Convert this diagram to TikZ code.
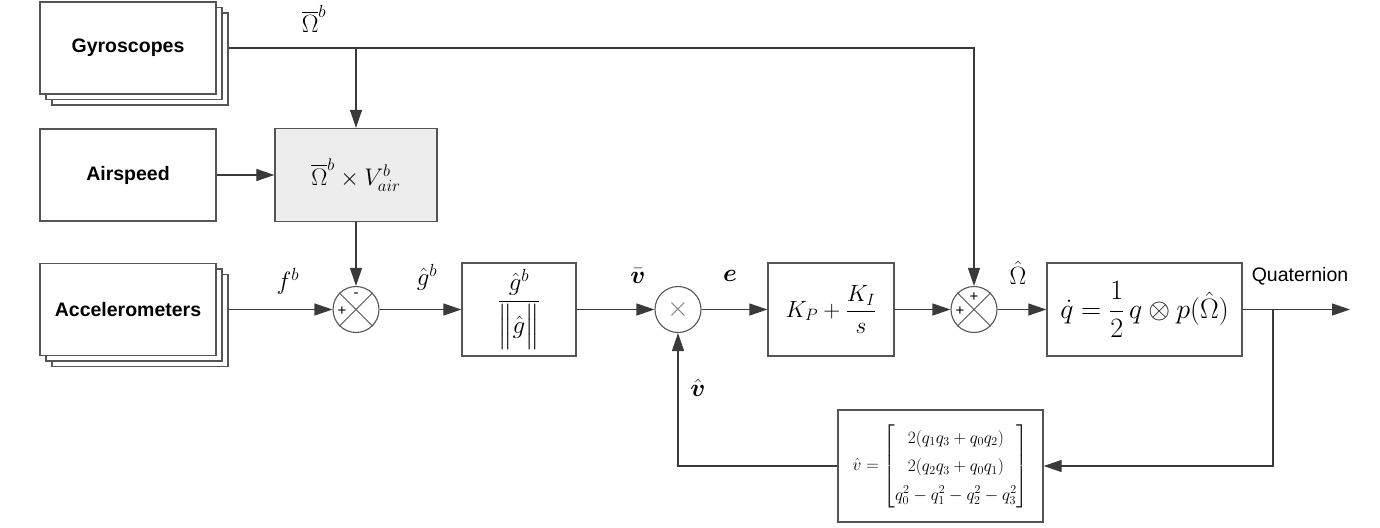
\RequirePackage{fix-cm}
\documentclass[tikz,border=0pt]{standalone}
\usepackage{amsmath,amssymb}
\usepackage{fontspec}
\newfontfamily\blockfont{Liberation Sans}
\usepackage{tikz}
\usetikzlibrary{arrows.meta,positioning,shapes.geometric,shadows}

\definecolor{linegray}{HTML}{3A3A3A}
\definecolor{boxgray}{HTML}{555555}
\definecolor{crossfill}{HTML}{EDEDED}

\begin{document}
\begin{tikzpicture}[x=1pt,y=-1pt,
  sensor/.style={draw=boxgray,line width=1.3pt,fill=white,minimum width=176pt,minimum height=92pt,
    font=\blockfont\fontsize{19.5}{23}\selectfont\bfseries},
  block/.style={draw=boxgray,line width=1.3pt,fill=white,minimum height=93pt,inner sep=0pt},
  junction/.style={draw=boxgray,circle,line width=1.1pt,minimum size=46pt,inner sep=0pt},
  wire/.style={line width=1.2pt,draw=linegray},
  sig/.style={wire,-{Triangle[length=18pt,width=12pt]}},
  lbl/.style={font=\fontsize{25}{29}\selectfont},
  sign/.style={font=\blockfont\fontsize{15}{17}\selectfont,inner sep=0pt}]
\useasboundingbox (0,0) rectangle (1380,527);

% sensors
\node[sensor,double copy shadow={shadow xshift=6pt,shadow yshift=-5.5pt}] (gyro) at (128,48) {Gyroscopes};
\node[sensor] (airspd) at (128,175) {Airspeed};
\node[sensor,double copy shadow={shadow xshift=6pt,shadow yshift=-5.5pt}] (accel) at (128,309.5) {Accelerometers};

% blocks
\node[block,fill=crossfill,minimum width=162pt] (cross) at (356,175)
  {\fontsize{24}{28}\selectfont$\overline{\Omega}^b\times V_{air}^b$};
\node[junction] (sumA) at (356,309.5) {};
\node[block,minimum width=114pt] (norm) at (519,309.5)
  {\fontsize{25}{30}\selectfont$\dfrac{\hat{g}^b}{\Bigl\|\hat{g}\Bigr\|}$};
\node[junction] (mult) at (678,309.5) {\fontsize{28}{32}\selectfont\color{gray}$\times$};
\node[block,minimum width=126pt] (kin) at (831,309.5)
  {\fontsize{23.5}{28}\selectfont$K_P+\dfrac{K_I}{s}$};
\node[block,minimum width=195pt] (qdot) at (1144.5,309.5)
  {\fontsize{28}{33}\selectfont$\dot{q}=\dfrac{1}{2}\,q\otimes p(\hat{\Omega})$};
\node[junction] (sumB) at (974,309.5) {};
\node[block,minimum width=205pt,minimum height=112pt] (fb) at (940.5,466)
  {\fontsize{17.3}{21}\selectfont\renewcommand{\arraystretch}{1.35}%
   $\hat{v}=\begin{bmatrix}2(q_1q_3+q_0q_2)\\2(q_2q_3+q_0q_1)\\q_0^2-q_1^2-q_2^2-q_3^2\end{bmatrix}$};

% junction crosses and signs
\foreach \j in {sumA,sumB}
  \draw[boxgray,line width=1pt] (\j.north west) -- (\j.south east) (\j.north east) -- (\j.south west);
\node[sign] (sumAm) at (356,295) {-};
\node[sign] (sumAp) at (342,311) {+};
\node[sign] (sumBt) at (974,297) {+};
\node[sign] (sumBp) at (960,311) {+};

% connectors
\coordinate (out) at (1350,309.5);
\coordinate (tap) at (1273,309.5);
\draw[sig] ([xshift=12pt]gyro.east) -| (sumB);
\draw[sig] (gyro.east -| cross.north) -- (cross);
\draw[sig] (airspd) -- (cross);
\draw[sig] (cross) -- (sumA);
\draw[sig] ([xshift=12pt]accel.east) -- (sumA);
\draw[sig] (sumA) -- (norm);
\draw[sig] (norm) -- (mult);
\draw[sig] (mult) -- (kin);
\draw[sig] (kin) -- (sumB);
\draw[sig] (sumB) -- (qdot);
\draw[sig] (qdot) -- (out);
\draw[sig] (tap) |- (fb);
\draw[sig] (fb) -| (mult);

% signal labels
\node[lbl] (omb) at (314,19) {$\overline{\Omega}^b$};
\node[lbl] (fbl) at (288,281) {$f^b$};
\node[lbl] (ghl) at (427,277) {$\hat{g}^b$};
\node[lbl] (vbl) at (638,276) {$\bar{\boldsymbol{v}}$};
\node[lbl] (el) at (730,276) {$\boldsymbol{e}$};
\node[lbl] (omh) at (1018,273) {$\hat{\Omega}$};
\node[lbl] (vhl) at (698,388) {$\hat{\boldsymbol{v}}$};
\node[font=\blockfont\fontsize{19.5}{23}\selectfont] (quat) at (1300,276) {Quaternion};
\end{tikzpicture}
\end{document}
